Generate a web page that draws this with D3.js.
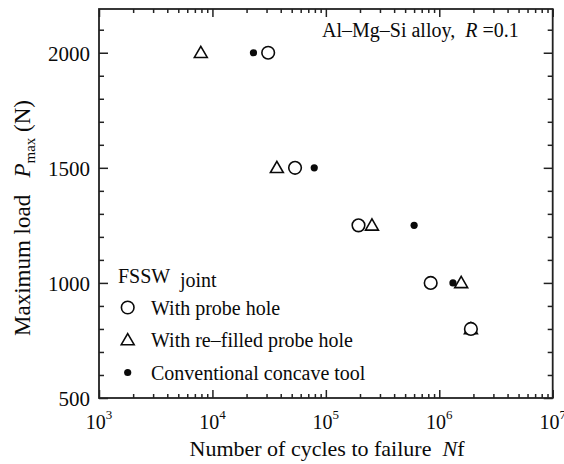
<!DOCTYPE html>
<html>
<head>
<meta charset="utf-8">
<script src="https://cdn.jsdelivr.net/npm/d3@7"></script>
<style>
  html, body { margin: 0; padding: 0; background: #fff; }
  svg { display: block; font-family: "Liberation Serif", "DejaVu Serif", serif; }
</style>
</head>
<body>
<svg id="chart" width="564" height="464"></svg>
<script>
// ---- data ----
const loadLevels = [2000, 1500, 1250, 1000, 800];
const probeHoleCycles   = [3.1e4, 5.35e4, 1.94e5, 8.4e5, 1.9e6];
const refilledLoads     = [2000, 1500, 1250, 1000, 800];
const refilledCycles    = [7.9e3, 3.7e4, 2.55e5, 1.56e6, 1.9e6];
const conventionalLoads = [2000, 1500, 1250, 1000];
const conventionalCycles= [2.3e4, 7.9e4, 6.0e5, 1.32e6];
const xMajorTicks = [1e3, 1e4, 1e5, 1e6, 1e7];
const xTickExponents = ["3", "4", "5", "6", "7"];
const yMajorTicks = [500, 1000, 1500, 2000];
const legendLabels = ["With probe hole", "With re\u2013filled probe hole", "Conventional concave tool"];

(function () {
const svg = d3.select("#chart");
const pLeft = 99, pRight = 552.7, pTop = 9, pBottom = 398;
const x = d3.scaleLog().domain([1e3, 1e7]).range([pLeft, pRight]);
const y = d3.scaleLinear().domain([500, 2190]).range([pBottom, pTop]);

const axisColor = "#222";
const ink = "#0a0a0a";
const xMinor = [];
for (let d = 3; d < 7; d++) for (let k = 2; k <= 9; k++) xMinor.push(k * Math.pow(10, d));
const yMinor = d3.range(600, 2200, 100).filter(v => v % 500 !== 0);

function styleAxis(g) {
  g.select(".domain").remove();
  g.selectAll("line").attr("stroke", axisColor).attr("stroke-width", 1.5);
  g.selectAll("text").remove();
}
svg.append("g").attr("transform", `translate(0,${pBottom})`)
  .call(d3.axisBottom(x).tickValues(xMajorTicks).tickSize(-8)).call(styleAxis);
svg.append("g").attr("transform", `translate(0,${pBottom})`)
  .call(d3.axisBottom(x).tickValues(xMinor).tickSize(-4)).call(styleAxis);
svg.append("g").attr("transform", `translate(0,${pTop})`)
  .call(d3.axisTop(x).tickValues(xMajorTicks).tickSize(-8)).call(styleAxis);
svg.append("g").attr("transform", `translate(0,${pTop})`)
  .call(d3.axisTop(x).tickValues(xMinor).tickSize(-4)).call(styleAxis);
svg.append("g").attr("transform", `translate(${pLeft},0)`)
  .call(d3.axisLeft(y).tickValues(yMajorTicks).tickSize(-9)).call(styleAxis);
svg.append("g").attr("transform", `translate(${pLeft},0)`)
  .call(d3.axisLeft(y).tickValues(yMinor).tickSize(-5)).call(styleAxis);
svg.append("g").attr("transform", `translate(${pRight},0)`)
  .call(d3.axisRight(y).tickValues(yMajorTicks).tickSize(-9)).call(styleAxis);
svg.append("g").attr("transform", `translate(${pRight},0)`)
  .call(d3.axisRight(y).tickValues(yMinor).tickSize(-5)).call(styleAxis);

svg.append("rect").attr("x", pLeft).attr("y", pTop)
  .attr("width", pRight - pLeft).attr("height", pBottom - pTop)
  .attr("fill", "none").attr("stroke", axisColor).attr("stroke-width", 1.8);

svg.append("g").selectAll("text").data(yMajorTicks).join("text")
  .attr("x", pLeft - 9).attr("y", d => y(d) + 8)
  .attr("text-anchor", "end").attr("font-size", 21).attr("fill", ink)
  .text(d => d);

const xl = svg.append("g").selectAll("text").data(xMajorTicks).join("text")
  .attr("x", d => x(d)).attr("y", 429)
  .attr("text-anchor", "middle").attr("font-size", 20).attr("fill", ink);
xl.append("tspan").text("10");
xl.append("tspan").attr("font-size", 13).attr("dy", -10).text((d, i) => xTickExponents[i]);

const xt = svg.append("text").attr("x", 327).attr("y", 456)
  .attr("text-anchor", "middle").attr("font-size", 22).attr("fill", ink);
xt.append("tspan").text("Number of cycles to failure\u00a0\u00a0");
xt.append("tspan").attr("font-style", "italic").text("N");
xt.append("tspan").text("f");

const yt = svg.append("text").attr("transform", "translate(30,218) rotate(-90)")
  .attr("text-anchor", "middle").attr("font-size", 23).attr("fill", ink);
yt.append("tspan").text("Maximum load\u00a0\u00a0\u00a0");
yt.append("tspan").attr("font-style", "italic").text("P");
yt.append("tspan").attr("font-size", 15).attr("dy", 5).text("max");
yt.append("tspan").attr("dy", -5).text("\u00a0(N)");

const an = svg.append("text").attr("x", 322).attr("y", 36.5)
  .attr("font-size", 20).attr("fill", ink);
an.append("tspan").text("Al\u2013Mg\u2013Si alloy,\u00a0\u00a0");
an.append("tspan").attr("font-style", "italic").text("R");
an.append("tspan").text("\u00a0=0.1");

const tri = d3.symbol().type(d3.symbolTriangle).size(72);
function drawCircle(g, cx, cy) {
  g.append("circle").attr("cx", cx).attr("cy", cy).attr("r", 6.3)
    .attr("fill", "#fff").attr("stroke", ink).attr("stroke-width", 1.6);
}
function drawTri(g, cx, cy) {
  g.append("path").attr("d", tri).attr("transform", `translate(${cx},${cy + 1})`)
    .attr("fill", "#fff").attr("stroke", ink).attr("stroke-width", 1.6);
}
function drawDot(g, cx, cy) {
  g.append("circle").attr("cx", cx).attr("cy", cy).attr("r", 3.6).attr("fill", ink);
}
const pts = svg.append("g");
refilledCycles.forEach((c, i) => drawTri(pts, x(c), y(refilledLoads[i])));
probeHoleCycles.forEach((c, i) => drawCircle(pts, x(c), y(loadLevels[i])));
conventionalCycles.forEach((c, i) => drawDot(pts, x(c), y(conventionalLoads[i])));

const lg = svg.append("g");
const fs = lg.append("text").attr("x", 118).attr("y", 283).attr("font-size", 20).attr("fill", ink);
fs.append("tspan").text("FSSW");
fs.append("tspan").attr("x", 180).attr("dy", 4).text("joint");
const legendY = [307.5, 340, 372.5];
drawCircle(lg, 127.7, legendY[0]);
drawTri(lg, 127.7, legendY[1]);
drawDot(lg, 127.7, legendY[2]);
lg.selectAll("text.lab").data(legendLabels).join("text").attr("class", "lab")
  .attr("x", 151).attr("y", (d, i) => legendY[i] + 7)
  .attr("font-size", 20).attr("fill", ink).text(d => d);
})();
</script>
</body>
</html>
